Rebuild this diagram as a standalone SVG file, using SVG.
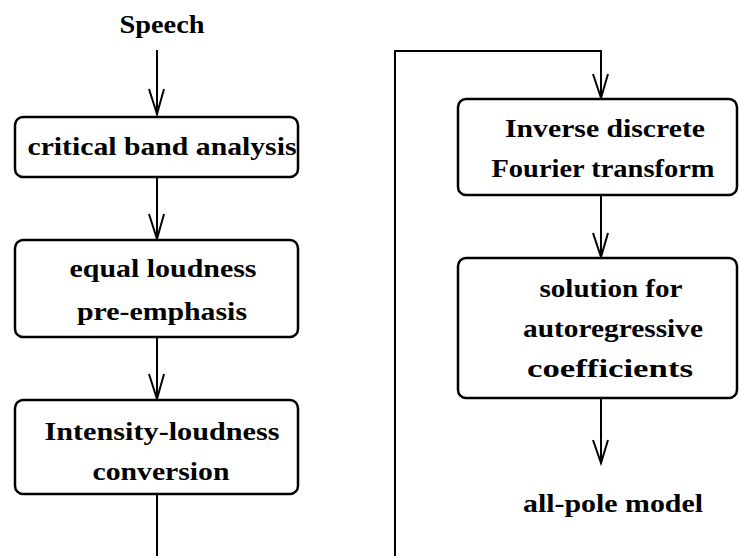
<svg xmlns="http://www.w3.org/2000/svg" width="739" height="556" viewBox="0 0 739 556">
<style>
.box{fill:#fff;stroke:#000;stroke-width:2.5}
.edge{fill:none;stroke:#000;stroke-width:2}
.head{fill:none;stroke:#000;stroke-width:2}
text{font-family:"Liberation Serif","Times New Roman",serif;font-size:26px;font-weight:bold;fill:#000;text-anchor:middle}
</style>
<rect width="739" height="556" fill="#fff"/>
<g id="connectors">
<path class="edge" d="M157,50 V115"/>
<path class="edge" d="M157,177 V239"/>
<path class="edge" d="M157,337 V399"/>
<path class="edge" d="M157,494 V556"/>
<path class="edge" d="M395,556 V51 H601 V98"/>
<path class="edge" d="M601,195 V257"/>
<path class="edge" d="M601,398 V463"/>
<path class="head" d="M149,89 L157,114 L164,89"/>
<path class="head" d="M149,214 L157,239 L164,214"/>
<path class="head" d="M149,374 L157,399 L164,374"/>
<path class="head" d="M593,74 L601,98 L608,74"/>
<path class="head" d="M593,233 L601,257 L608,233"/>
<path class="head" d="M593,440 L601,463 L608,440"/>
</g>
<g id="speech"><text x="162" y="33" textLength="85" lengthAdjust="spacingAndGlyphs">Speech</text></g>
<g id="critical">
<rect class="box" x="15" y="117" width="283" height="60" rx="8"/>
<text x="162" y="155" textLength="269" lengthAdjust="spacingAndGlyphs">critical band analysis</text>
</g>
<g id="equal">
<rect class="box" x="15" y="240" width="283" height="97" rx="8"/>
<text x="163" y="277" textLength="187" lengthAdjust="spacingAndGlyphs">equal loudness</text>
<text x="162" y="320" textLength="170" lengthAdjust="spacingAndGlyphs">pre-emphasis</text>
</g>
<g id="intensity">
<rect class="box" x="15" y="400" width="283" height="94" rx="8"/>
<text x="162" y="440" textLength="235" lengthAdjust="spacingAndGlyphs">Intensity-loudness</text>
<text x="161" y="480" textLength="137" lengthAdjust="spacingAndGlyphs">conversion</text>
</g>
<g id="idft">
<rect class="box" x="458" y="99" width="279" height="96" rx="8"/>
<text x="605" y="137" textLength="200" lengthAdjust="spacingAndGlyphs">Inverse discrete</text>
<text x="603" y="177" textLength="223" lengthAdjust="spacingAndGlyphs">Fourier transform</text>
</g>
<g id="solution">
<rect class="box" x="458" y="258" width="279" height="140" rx="8"/>
<text x="611" y="297" textLength="143" lengthAdjust="spacingAndGlyphs">solution for</text>
<text x="613" y="337" textLength="180" lengthAdjust="spacingAndGlyphs">autoregressive</text>
<text x="610" y="377" textLength="166" lengthAdjust="spacingAndGlyphs">coefficients</text>
</g>
<g id="allpole"><text x="613" y="512" textLength="180" lengthAdjust="spacingAndGlyphs">all-pole model</text></g>
</svg>
